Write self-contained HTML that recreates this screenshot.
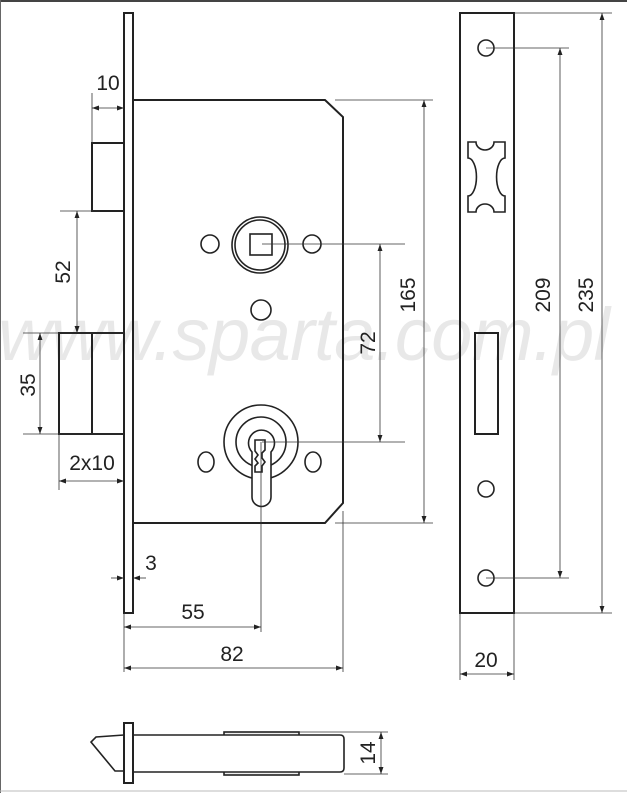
<!DOCTYPE html>
<html><head><meta charset="utf-8"><style>
html,body{margin:0;padding:0;background:#fff;}
svg{display:block;}
</style></head><body>
<svg width="627" height="793" viewBox="0 0 627 793" xmlns="http://www.w3.org/2000/svg">
<defs>
<marker id="a" viewBox="0 0 10 10" refX="10" refY="5" markerWidth="7" markerHeight="7" markerUnits="userSpaceOnUse" orient="auto-start-reverse"><path d="M0,1.5 L10,5 L0,8.5 z" fill="#222"/></marker>
</defs>
<rect x="0" y="0" width="627" height="793" fill="#fff"/>
<rect x="0" y="0" width="627" height="2" fill="#444"/>
<rect x="0" y="0" width="1" height="793" fill="#666"/>
<line x1="0" y1="791" x2="627" y2="791" stroke="#bbb" stroke-width="1"/>
<text x="-2" y="360" font-family="Liberation Sans, sans-serif" font-style="italic" font-size="74" fill="#e8e8e8" textLength="612">www.sparta.com.pl</text>

<g fill="none" stroke="#222" stroke-width="2">
<rect x="124" y="13" width="9" height="600"/>
<path d="M133,100 H325 L343,117 V503 L325,523 H133"/>
<rect x="92" y="143" width="32" height="68"/>
<rect x="59" y="333" width="65" height="101"/>
<line x1="92" y1="333" x2="92" y2="434"/>
<rect x="460" y="13" width="54" height="600"/>
<rect x="475" y="333" width="23" height="101"/>
</g>
<g fill="none" stroke="#222" stroke-width="1.6">
<circle cx="260" cy="245" r="28"/><circle cx="260" cy="245" r="25"/>
<rect x="250" y="234" width="22" height="21"/>
<circle cx="210" cy="244" r="9"/><circle cx="312" cy="244" r="9"/>
<circle cx="261" cy="310" r="10"/>
<circle cx="261" cy="442" r="37"/>
<circle cx="261" cy="442" r="25"/>
<path d="M252,452 A13,13 0 1 1 271,452 V497 A9.5,9.5 0 0 1 252,497 Z" fill="#fff"/>
<path d="M255,440 h10 v10 l-3,3 v5 l3,4 -3,4 v6 h-7 v-6 l3,-3 -3,-4 3,-4 -3,-4 z"/>
<ellipse cx="206" cy="462" rx="8" ry="10"/><ellipse cx="313" cy="462" rx="8" ry="10"/>
<circle cx="486" cy="48" r="8"/><circle cx="486" cy="489" r="8"/><circle cx="486" cy="578" r="8"/>
<path d="M468,142 H476 A9,8 0 0 0 494,142 H505 V158 A8,18 0 0 0 505,196 V212 H494 A9,8 0 0 0 476,212 H468 V196 A8,18 0 0 0 468,158 Z"/>
</g>
<!-- bottom view -->
<g fill="none" stroke="#222" stroke-width="1.6">
<rect x="224" y="732" width="75" height="43" fill="#eee"/>
<path d="M133,735 H340 Q344,735 344,739 V768 Q344,772 340,772 H133 Z" fill="#fff"/>
<rect x="124" y="723" width="9" height="60" fill="#fff" stroke-width="2"/>
<path d="M124,735 L96,737 L91,742 L115,771 L124,771"/>
</g>
<!-- dimension lines -->
<g stroke="#333" stroke-width="0.8" fill="none">
<line x1="92" y1="93" x2="92" y2="143"/>
<line x1="92" y1="108" x2="124" y2="108" marker-start="url(#a)" marker-end="url(#a)"/>
<line x1="60" y1="211" x2="100" y2="211"/>
<line x1="77" y1="211" x2="77" y2="333" marker-start="url(#a)" marker-end="url(#a)"/>
<line x1="23" y1="333" x2="124" y2="333"/>
<line x1="23" y1="434" x2="124" y2="434"/>
<line x1="40" y1="333" x2="40" y2="434" marker-start="url(#a)" marker-end="url(#a)"/>
<line x1="59" y1="434" x2="59" y2="490"/>
<line x1="59" y1="481" x2="124" y2="481" marker-start="url(#a)" marker-end="url(#a)"/>
<line x1="111" y1="578" x2="124" y2="578" marker-end="url(#a)"/>
<line x1="146" y1="578" x2="133" y2="578" marker-end="url(#a)"/>
<line x1="124" y1="613" x2="124" y2="672"/>
<line x1="261" y1="442" x2="261" y2="632"/>
<line x1="124" y1="627" x2="261" y2="627" marker-start="url(#a)" marker-end="url(#a)"/>
<line x1="343" y1="511" x2="343" y2="672"/>
<line x1="124" y1="668" x2="343" y2="668" marker-start="url(#a)" marker-end="url(#a)"/>
<line x1="262" y1="244" x2="405" y2="244"/>
<line x1="262" y1="442" x2="405" y2="442"/>
<line x1="380" y1="244" x2="380" y2="442" marker-start="url(#a)" marker-end="url(#a)"/>
<line x1="335" y1="100" x2="433" y2="100"/>
<line x1="335" y1="523" x2="433" y2="523"/>
<line x1="424" y1="100" x2="424" y2="523" marker-start="url(#a)" marker-end="url(#a)"/>
<line x1="486" y1="48" x2="569" y2="48"/>
<line x1="486" y1="578" x2="569" y2="578"/>
<line x1="560" y1="48" x2="560" y2="578" marker-start="url(#a)" marker-end="url(#a)"/>
<line x1="514" y1="13" x2="612" y2="13"/>
<line x1="514" y1="613" x2="612" y2="613"/>
<line x1="602" y1="13" x2="602" y2="613" marker-start="url(#a)" marker-end="url(#a)"/>
<line x1="460" y1="613" x2="460" y2="680"/>
<line x1="514" y1="613" x2="514" y2="680"/>
<line x1="460" y1="674" x2="514" y2="674" marker-start="url(#a)" marker-end="url(#a)"/>
<line x1="299" y1="732" x2="388" y2="732"/>
<line x1="344" y1="774" x2="388" y2="774"/>
<line x1="381" y1="732" x2="381" y2="774" marker-start="url(#a)" marker-end="url(#a)"/>
</g>
<g font-family="Liberation Sans, sans-serif" font-size="21" fill="#222" text-anchor="middle">
<text x="108" y="90">10</text>
<text x="92" y="470">2x10</text>
<text x="151" y="570">3</text>
<text x="193" y="619">55</text>
<text x="232" y="661">82</text>
<text x="486" y="667">20</text>
<text transform="translate(70,272) rotate(-90)">52</text>
<text transform="translate(35,385) rotate(-90)">35</text>
<text transform="translate(375,343) rotate(-90)">72</text>
<text transform="translate(415,295) rotate(-90)">165</text>
<text transform="translate(550,295) rotate(-90)">209</text>
<text transform="translate(593,295) rotate(-90)">235</text>
<text transform="translate(375,753) rotate(-90)">14</text>
</g>
</svg>
</body></html>
